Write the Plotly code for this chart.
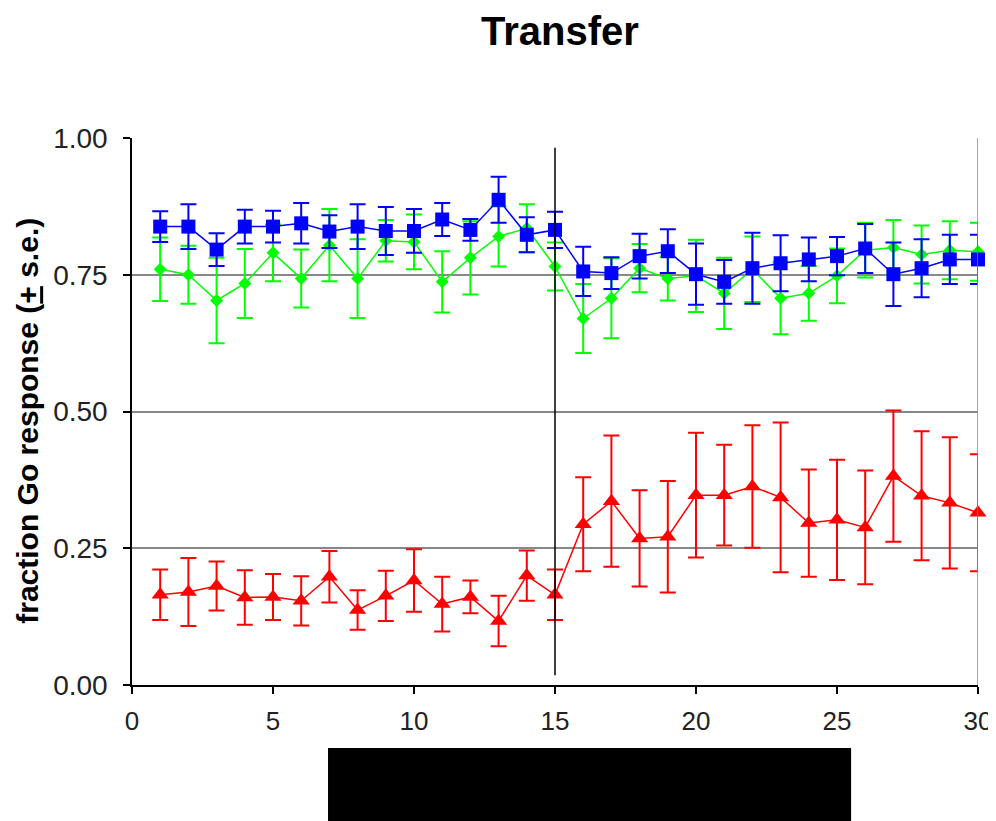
import plotly.graph_objects as go

# ---- data ----
sessions = list(range(1, 31))

blue_vals = [0.838, 0.838, 0.796, 0.838, 0.838, 0.844, 0.829, 0.838, 0.830, 0.830,
             0.851, 0.832, 0.887, 0.823, 0.832, 0.756, 0.753, 0.784, 0.793, 0.751,
             0.737, 0.762, 0.771, 0.778, 0.784, 0.798, 0.751, 0.762, 0.778, 0.778]
blue_err = [0.028, 0.041, 0.030, 0.031, 0.029, 0.037, 0.030, 0.041, 0.044, 0.040,
            0.030, 0.020, 0.042, 0.032, 0.033, 0.045, 0.029, 0.041, 0.040, 0.056,
            0.040, 0.065, 0.051, 0.040, 0.035, 0.045, 0.058, 0.053, 0.045, 0.045]

green_vals = [0.760, 0.750, 0.703, 0.734, 0.790, 0.743, 0.804, 0.743, 0.812, 0.810,
              0.737, 0.781, 0.820, 0.835, 0.765, 0.670, 0.707, 0.762, 0.743, 0.748,
              0.716, 0.760, 0.707, 0.716, 0.748, 0.795, 0.800, 0.787, 0.795, 0.792]
green_err = [0.058, 0.053, 0.078, 0.063, 0.052, 0.053, 0.066, 0.072, 0.038, 0.050,
             0.056, 0.067, 0.055, 0.044, 0.044, 0.063, 0.073, 0.044, 0.040, 0.066,
             0.065, 0.060, 0.066, 0.050, 0.050, 0.050, 0.050, 0.053, 0.053, 0.053]

red_vals = [0.165, 0.170, 0.181, 0.160, 0.161, 0.154, 0.198, 0.137, 0.163, 0.191,
            0.148, 0.161, 0.117, 0.200, 0.165, 0.294, 0.336, 0.268, 0.271, 0.347,
            0.347, 0.363, 0.343, 0.296, 0.302, 0.288, 0.382, 0.346, 0.333, 0.315]
red_err = [0.046, 0.062, 0.045, 0.050, 0.042, 0.045, 0.047, 0.036, 0.046, 0.057,
           0.050, 0.030, 0.046, 0.046, 0.046, 0.086, 0.120, 0.088, 0.102, 0.114,
           0.092, 0.112, 0.137, 0.098, 0.110, 0.104, 0.120, 0.118, 0.120, 0.107]

x_ticks = [0, 5, 10, 15, 20, 25, 30]
y_ticks = [0.0, 0.25, 0.5, 0.75, 1.0]
y_tick_text = ["0.00", "0.25", "0.50", "0.75", "1.00"]
transfer_point = 15

FONT = "Liberation Sans"

fig = go.Figure()

def add_series(xs, ys, errs, color, symbol, size):
    fig.add_trace(go.Scatter(
        x=xs, y=ys, mode="lines+markers",
        line=dict(color=color, width=1.5),
        marker=dict(color=color, symbol=symbol, size=size, line=dict(width=0)),
        error_y=dict(type="data", array=errs, visible=True, color=color,
                     thickness=2, width=8),
        showlegend=False, cliponaxis=False,
    ))

add_series(sessions, green_vals, green_err, "#00FF00", "diamond", 10)
add_series(sessions, blue_vals, blue_err, "#0000FF", "square", 14)
add_series(sessions, red_vals, red_err, "#FF0000", "triangle-up", 15)

# vertical transfer line
fig.add_shape(type="line", xref="x", yref="y", x0=transfer_point, x1=transfer_point,
              y0=0.018, y1=0.982, line=dict(color="black", width=1.5))
# right border
fig.add_shape(type="line", xref="x", yref="paper", x0=30, x1=30, y0=0, y1=1,
              line=dict(color="#888888", width=1.5))
# black box below axis
fig.add_shape(type="rect", xref="paper", yref="paper", x0=0.2317, x1=0.85,
              y0=-0.26, y1=-0.1152, fillcolor="black", line=dict(width=0))

fig.add_annotation(text="fraction Go response (<u>+</u> s.e.)", xref="paper", yref="paper",
                   x=-0.123, y=0.483, xanchor="center", yanchor="middle",
                   textangle=-90, showarrow=False,
                   font=dict(family=FONT, size=30, color="black", weight="bold"))

# page has an 8px body margin, so the figure is sized to fit the 996x821 window
fig.update_layout(
    width=988, height=813, autosize=False,
    margin=dict(l=124, r=18, t=130, b=136),
    paper_bgcolor="white", plot_bgcolor="white",
    title=dict(text="<b>Transfer</b>", x=552 / 988, xanchor="center", y=1 - 23 / 813,
               yanchor="middle", font=dict(family=FONT, size=40, color="black")),
    xaxis=dict(range=[0, 30], tickvals=x_ticks, showgrid=False, zeroline=False,
               showline=True, linecolor="black", linewidth=1.5, automargin=False,
               ticks="outside", ticklen=7, tickcolor="black", tickwidth=1.5,
               tickfont=dict(family=FONT, size=26, color="#222"),
               ticklabelstandoff=5, ticklabeloverflow="allow"),
    yaxis=dict(range=[0, 1], tickvals=y_ticks, ticktext=y_tick_text,
               showgrid=True, gridcolor="#888888", gridwidth=1.5, zeroline=False,
               showline=True, linecolor="black", linewidth=1.5, automargin=False,
               ticks="outside", ticklen=7, tickcolor="black", tickwidth=1.5,
               tickfont=dict(family=FONT, size=28, color="#222"),
               ticklabelstandoff=10),
)

fig.write_html("out.html")
